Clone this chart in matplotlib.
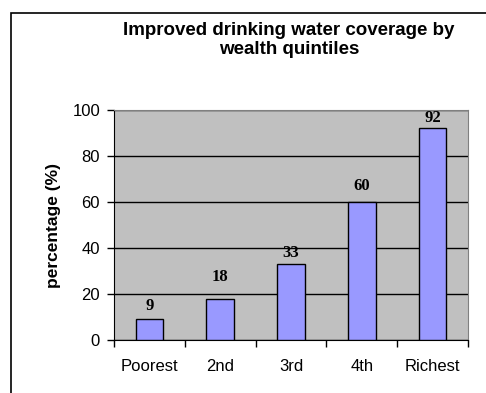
import matplotlib
matplotlib.use("Agg")
import matplotlib.pyplot as plt
from matplotlib.patches import Rectangle

categories = ["Poorest", "2nd", "3rd", "4th", "Richest"]
values = [9, 18, 33, 60, 92]
yticks = [0, 20, 40, 60, 80, 100]

# vertical gap (points) between each bar top and its value label
label_gaps = [3.5, 10, 2.5, 6, 1.5]

W, H = 486, 393
fig = plt.figure(figsize=(W / 100, H / 100), dpi=100)
fig.patch.set_facecolor("white")

# outer chart frame (continues past the right and bottom edges)
fig.add_artist(Rectangle((11 / W, -0.05), 1.2, (H - 13) / H + 0.05,
                         transform=fig.transFigure, fill=False,
                         edgecolor="black", linewidth=1.2))

left, right, top, bottom = 114, 468, 110, 340
ax = fig.add_axes([left / W, 1 - bottom / H, (right - left) / W, (bottom - top) / H])
ax.set_facecolor("#C0C0C0")

x = list(range(len(categories)))
ax.bar(x, values, width=0.39, color="#9999FF", edgecolor="black",
       linewidth=1.0, zorder=3)

for xi, v, g in zip(x, values, label_gaps):
    ax.annotate(str(v), (xi, v), xytext=(0, g), textcoords="offset points",
                ha="center", va="bottom", fontsize=12, fontweight="bold",
                family="Liberation Serif", zorder=4)

ax.set_xlim(-0.5, len(categories) - 0.5)
ax.set_ylim(0, 100)
ax.set_yticks(yticks)
ax.yaxis.grid(True, color="black", linewidth=1.0, zorder=1)
ax.set_axisbelow(True)

ax.set_xticks([i - 0.5 for i in range(len(categories) + 1)])
ax.set_xticklabels([])
ax.set_xticks(x, minor=True)
ax.set_xticklabels(categories, minor=True, fontsize=12, family="Liberation Sans")
ax.tick_params(axis="x", which="minor", length=0, pad=14)
ax.tick_params(axis="x", which="major", length=5, width=1, direction="out")
ax.tick_params(axis="y", length=5, width=1, direction="out", pad=5,
               labelsize=12)
for lab in ax.get_yticklabels():
    lab.set_family("Liberation Sans")

ax.spines["left"].set_color("black")
ax.spines["bottom"].set_color("black")
ax.spines["top"].set_color("#808080")
ax.spines["right"].set_color("#808080")

ax.set_ylabel("percentage (%)", fontsize=12.5, fontweight="bold",
              family="Liberation Sans", labelpad=8)

fig.text(289 / W, 1 - 40 / H, "Improved drinking water coverage by\nwealth quintiles",
         ha="center", va="center", fontsize=13.5, fontweight="bold",
         family="Liberation Sans", linespacing=1.15)

fig.savefig("out.png", dpi=100)
